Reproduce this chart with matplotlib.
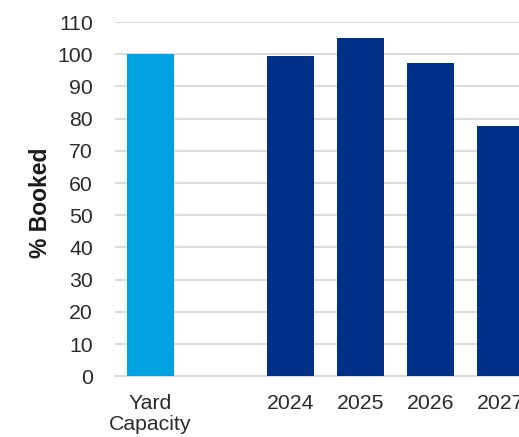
import matplotlib
matplotlib.use('Agg')
import matplotlib.pyplot as plt

plt.rcParams['font.family'] = ['Liberation Sans', 'DejaVu Sans']

# data
categories = ['Yard\nCapacity', '', '2024', '2025', '2026', '2027']
values = [100, None, 99.5, 105, 97.3, 77.8]
colors = ['#00A3E0', None, '#003087', '#003087', '#003087', '#003087']
yticks = list(range(0, 111, 10))

fig = plt.figure(figsize=(5.19, 4.37), dpi=100)
# axes run past the right edge, the reference is cropped there
ax = fig.add_axes([115/519, 60.7/437, 421/519, 354.3/437])

xs = [i for i, v in enumerate(values) if v is not None]
ax.bar(xs, [values[i] for i in xs], width=0.67,
       color=[colors[i] for i in xs], zorder=3)

ax.set_xlim(-0.5, len(categories) - 0.5)
ax.set_ylim(0, 110)
ax.set_yticks(yticks)
ax.set_xticks(range(len(categories)))
ax.set_xticklabels(categories)

ax.yaxis.grid(True, color='#d9d9d9', linewidth=1.3, zorder=0)
for s in ['top', 'right', 'left']:
  ax.spines[s].set_visible(False)
ax.spines['bottom'].set_color('#d9d9d9')
ax.spines['bottom'].set_linewidth(1.3)

ax.tick_params(axis='both', length=0, labelsize=15.3, labelcolor='#2b2b2b')
ax.tick_params(axis='y', pad=16)
ax.tick_params(axis='x', pad=13)
for lab in ax.get_xticklabels():
  lab.set_linespacing(1.1)

ax.set_ylabel('% Booked', fontsize=16.5, fontweight='bold', color='#1a1a1a')
ax.yaxis.set_label_coords(-0.15, 0.49)

fig.savefig('out.png', dpi=100)
